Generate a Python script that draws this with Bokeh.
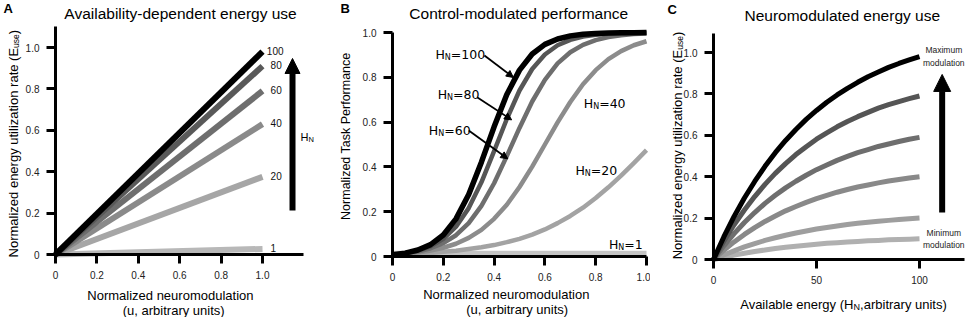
import math
from bokeh.plotting import figure
from bokeh.models import Range1d, FixedTicker, CustomJSTickFormatter, Label, Arrow, NormalHead
from bokeh.layouts import row
from bokeh.embed import file_html
from bokeh.resources import INLINE

SANS = "Liberation Sans"
DJ = "DejaVu Sans"

# ---------------- data ----------------
# Panel A: availability-dependent energy use (straight lines from origin)
a_u = [0.0, 1.0]
a_hn = ["100", "80", "60", "40", "20", "1"]
a_rate_end = [0.98, 0.91, 0.79, 0.63, 0.375, 0.027]

# Panel B: control-modulated performance
b_u = [0.00, 0.05, 0.10, 0.15, 0.20, 0.25, 0.30, 0.35, 0.40, 0.45, 0.50,
       0.55, 0.60, 0.65, 0.70, 0.75, 0.80, 0.85, 0.90, 0.95, 1.00]
b_hn = ["100", "80", "60", "40", "20", "1"]
b_perf_100 = [0.008, 0.015, 0.029, 0.053, 0.096, 0.168, 0.277, 0.421, 0.579, 0.723, 0.832,
              0.904, 0.947, 0.971, 0.985, 0.992, 0.996, 0.998, 0.999, 0.999, 1.000]
b_perf_80 = [0.008, 0.015, 0.026, 0.045, 0.079, 0.133, 0.216, 0.331, 0.470, 0.614, 0.741,
             0.837, 0.902, 0.943, 0.967, 0.982, 0.990, 0.994, 0.997, 0.998, 0.999]
b_perf_60 = [0.008, 0.014, 0.022, 0.037, 0.060, 0.095, 0.149, 0.226, 0.327, 0.448, 0.574,
             0.692, 0.789, 0.862, 0.912, 0.945, 0.966, 0.980, 0.988, 0.993, 0.996]
b_perf_40 = [0.008, 0.012, 0.018, 0.027, 0.039, 0.057, 0.083, 0.119, 0.168, 0.231, 0.310,
             0.401, 0.500, 0.599, 0.690, 0.769, 0.832, 0.881, 0.917, 0.943, 0.961]
b_perf_20 = [0.008, 0.010, 0.013, 0.016, 0.021, 0.026, 0.033, 0.041, 0.051, 0.064, 0.079,
             0.098, 0.121, 0.149, 0.181, 0.218, 0.261, 0.309, 0.361, 0.417, 0.475]
b_perf_1 = [0.016, 0.016, 0.016, 0.016, 0.016, 0.016, 0.016, 0.016, 0.016, 0.016, 0.016,
            0.016, 0.016, 0.016, 0.016, 0.016, 0.016, 0.016, 0.016, 0.016, 0.016]

# Panel C: neuromodulated energy use
c_hn = [0, 5, 10, 15, 20, 25, 30, 35, 40, 45, 50, 55, 60, 65, 70, 75, 80, 85, 90, 95, 100]
c_use_max = [0, 0.109, 0.208, 0.297, 0.377, 0.450, 0.516, 0.575, 0.628, 0.677, 0.720,
             0.760, 0.795, 0.827, 0.856, 0.883, 0.906, 0.928, 0.947, 0.964, 0.980]
c_use_2 = [0, 0.088, 0.168, 0.239, 0.304, 0.363, 0.416, 0.463, 0.507, 0.545, 0.581,
           0.612, 0.641, 0.667, 0.690, 0.711, 0.731, 0.748, 0.763, 0.777, 0.790]
c_use_3 = [0, 0.066, 0.125, 0.179, 0.227, 0.271, 0.310, 0.346, 0.378, 0.407, 0.434,
           0.457, 0.479, 0.498, 0.516, 0.531, 0.546, 0.558, 0.570, 0.581, 0.590]
c_use_4 = [0, 0.045, 0.085, 0.121, 0.154, 0.184, 0.210, 0.235, 0.256, 0.276, 0.294,
           0.310, 0.325, 0.338, 0.350, 0.360, 0.370, 0.379, 0.386, 0.394, 0.400]
c_use_5 = [0, 0.022, 0.042, 0.061, 0.077, 0.092, 0.105, 0.117, 0.128, 0.138, 0.147,
           0.155, 0.162, 0.169, 0.175, 0.180, 0.185, 0.189, 0.193, 0.197, 0.200]
c_use_min = [0, 0.011, 0.021, 0.030, 0.039, 0.046, 0.053, 0.059, 0.064, 0.069, 0.074,
             0.078, 0.081, 0.084, 0.087, 0.090, 0.092, 0.095, 0.097, 0.098, 0.100]

tick_01 = [0, 0.2, 0.4, 0.6, 0.8, 1.0]
tick_c_x = [0, 50, 100]

# ---------------- styles ----------------
a_colors = ["#000000", "#595959", "#6e6e6e", "#8a8a8a", "#a6a6a6", "#b8b8b8"]
b_colors = ["#000000", "#565656", "#6e6e6e", "#8c8c8c", "#a3a3a3", "#c4c4c4"]
c_colors = ["#000000", "#555555", "#6e6e6e", "#898989", "#9e9e9e", "#b0b0b0"]

FMT = CustomJSTickFormatter(code="return tick == 0 ? '0' : tick.toFixed(1);")
FMT0 = CustomJSTickFormatter(code="return tick.toFixed(0);")

PAGE_TOP, PAGE_H = 0, 317


def lab(p, x, y, text, size, font=SANS, align="left", baseline="middle",
        style="normal", color="#000000", angle=0.0, xo=0, yo=0):
    p.add_layout(Label(x=x, y=y, text=text, text_font=font,
                       text_font_size=f"{size}px", text_align=align,
                       text_baseline=baseline, text_font_style=style,
                       text_color=color, angle=angle, x_offset=xo, y_offset=yo))


def make_fig(left, width, ox, sx, oy, sy, xbounds, ybounds, xticks, yticks, xfmt, yfmt):
    """Frame covers the whole canvas; axes are pinned at data 0."""
    xr = ((left - ox) / sx, (left + width - ox) / sx)
    yr = ((oy - (PAGE_TOP + PAGE_H)) / sy, (oy - PAGE_TOP) / sy)
    p = figure(width=width, height=PAGE_H, x_range=Range1d(*xr), y_range=Range1d(*yr),
               output_backend="svg", toolbar_location=None,
               min_border_left=0, min_border_right=0, min_border_top=0, min_border_bottom=0)
    p.outline_line_color = None
    p.background_fill_color = "white"
    p.border_fill_color = "white"
    p.xgrid.visible = False
    p.ygrid.visible = False
    for ax, ticks, fmt, b in ((p.xaxis[0], xticks, xfmt, xbounds),
                              (p.yaxis[0], yticks, yfmt, ybounds)):
        ax.fixed_location = 0
        ax.bounds = b
        ax.ticker = FixedTicker(ticks=ticks)
        ax.formatter = fmt
        ax.axis_line_width = 3
        ax.axis_line_color = "#000000"
        ax.major_tick_line_width = 3
        ax.major_tick_line_color = "#000000"
        ax.major_tick_out = 9
        ax.major_tick_in = 0
        ax.minor_tick_line_color = None
        ax.major_label_text_font = SANS
        ax.major_label_text_font_size = "10px"
        ax.major_label_text_color = "#222222"
        ax.major_label_standoff = 7
        ax.axis_label = None
    return p


def hn_label(p, x, y, rest, big, small, font, n_dx, n_dy=-3.2):
    lab(p, x, y, "H", big, font=font, baseline="alphabetic")
    lab(p, x, y, "N", small, font=font, baseline="alphabetic", xo=n_dx, yo=n_dy)
    if rest:
        lab(p, x, y, rest, big, font=font, baseline="alphabetic",
            xo=n_dx + small * 0.75)


# ---------------- Panel A ----------------
pa = make_fig(0, 322, 55, 207, 254, 207, (0, 1.2), (0, 1.1), tick_01, tick_01, FMT, FMT)
for i in reversed(range(len(a_hn))):
    pa.line(a_u, [0.0, a_rate_end[i]], line_color=a_colors[i], line_width=6)
    lab(pa, 1.021 if a_hn[i] == "100" else 1.039, a_rate_end[i], a_hn[i], 10,
        color="#111111", yo=1)
pa.add_layout(Arrow(end=NormalHead(size=15, fill_color="black", line_color="black"),
                    x_start=1.145, y_start=0.213, x_end=1.145, y_end=0.947,
                    line_width=6, line_color="black"))
hn_label(pa, 1.184, 0.568, "", 11, 7.5, SANS, 8.0, n_dy=-2.6)
lab(pa, -0.251, 1.186, "A", 13, style="bold")
lab(pa, 0.604, 1.162, "Availability-dependent energy use", 15.5, align="center")
lab(pa, 0.555, -0.198, "Normalized neuromodulation", 13, align="center")
lab(pa, 0.571, -0.271, "(u, arbitrary units)", 13, align="center")
lab(pa, -0.205, 0.998, "Normalized energy utilization rate (E", 13,
    align="right", baseline="alphabetic", angle=math.pi / 2)
lab(pa, -0.205, 0.998, "use", 8.5, baseline="alphabetic", angle=math.pi / 2, xo=3)
lab(pa, -0.205, 0.998, ")", 13, baseline="alphabetic", angle=math.pi / 2, yo=13.7)

# ---------------- Panel B ----------------
pb = make_fig(322, 328, 392, 254, 256, 224, (0, 1), (0, 1), tick_01, tick_01, FMT, FMT)
b_series = [b_perf_100, b_perf_80, b_perf_60, b_perf_40, b_perf_20, b_perf_1]
for i in reversed(range(len(b_series))):
    pb.line(b_u, b_series[i], line_color=b_colors[i],
            line_width=5.5 if i == 0 else 4.5, line_join="round")
b_lab_pos = [(0.169, 0.904), (0.178, 0.724), (0.143, 0.564),
             (0.753, 0.683), (0.720, 0.386), (0.852, 0.054)]
for (x, y), hn in zip(b_lab_pos, b_hn):
    hn_label(pb, x, y, "=" + hn, 12.5, 8, DJ, 9.4)
for (xs, ys, xe, ye) in [(0.362, 0.897, 0.476, 0.799),
                         (0.333, 0.711, 0.469, 0.610),
                         (0.300, 0.5625, 0.454, 0.436)]:
    pb.add_layout(Arrow(end=NormalHead(size=7, fill_color="black", line_color="black",
                                       line_width=1),
                        x_start=xs, y_start=ys, x_end=xe, y_end=ye,
                        line_width=1.8, line_color="black"))
lab(pb, -0.205, 1.105, "B", 13, style="bold")
lab(pb, 0.497, 1.0835, "Control-modulated performance", 15.5, align="center")
lab(pb, 0.448, -0.170, "Normalized neuromodulation", 13, align="center")
lab(pb, 0.491, -0.237, "(u, arbitrary units)", 13, align="center")
lab(pb, -0.182, 0.537, "Normalized Task Performance", 12.5, align="center",
    angle=math.pi / 2)

# ---------------- Panel C ----------------
pc = make_fig(650, 316, 713, 2.06, 259, 207, (0, 122), (0, 1.092), tick_c_x, tick_01, FMT0, FMT)
c_series = [c_use_max, c_use_2, c_use_3, c_use_4, c_use_5, c_use_min]
for i in reversed(range(len(c_series))):
    pc.line(c_hn, c_series[i], line_color=c_colors[i], line_width=5, line_join="round")
pc.add_layout(Arrow(end=NormalHead(size=17, fill_color="black", line_color="black"),
                    x_start=111.0, y_start=0.227, x_end=111.0, y_end=0.894,
                    line_width=6, line_color="black"))
lab(pc, 111.8, 1.010, "Maximum", 8.5, align="center", color="#222222")
lab(pc, 111.8, 0.947, "modulation", 8.5, align="center", color="#222222")
lab(pc, 111.8, 0.130, "Minimum", 8.5, align="center", color="#222222")
lab(pc, 111.8, 0.068, "modulation", 8.5, align="center", color="#222222")
lab(pc, -22.3, 1.210, "C", 13, style="bold")
lab(pc, 62.5, 1.179, "Neuromodulated energy use", 15.5, align="center")
lab(pc, 12.96, -0.215, "Available energy (H", 13, baseline="alphabetic")
lab(pc, 12.96, -0.215, "N", 9, baseline="alphabetic", xo=113.4, yo=-3)
lab(pc, 12.96, -0.215, ",arbitrary units)", 13, baseline="alphabetic", xo=119.9)
lab(pc, -17.7, 1.013, "Normalized energy utilization rate (E", 13,
    align="right", baseline="alphabetic", angle=math.pi / 2)
lab(pc, -17.7, 1.013, "use", 8.5, baseline="alphabetic", angle=math.pi / 2, xo=3)
lab(pc, -17.7, 1.013, ")", 13, baseline="alphabetic", angle=math.pi / 2, yo=13.7)

layout = row(pa, pb, pc)
open("out.html", "w").write(file_html(layout, INLINE))
